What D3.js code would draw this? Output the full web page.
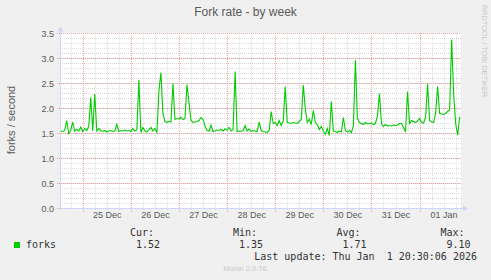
<!DOCTYPE html>
<meta charset="utf-8">
<style>
body { margin: 0; background: #f0f0f0; }
text { font-family: "Liberation Sans", Arial, sans-serif; }
.mono { font-family: "DejaVu Sans Mono", monospace; }
</style>
<body>
<script src="https://d3js.org/d3.v7.min.js"></script>
<script>

var width = 491,
    height = 280;

// hourly averages, first sample at 24 Dec 13:00 (UTC)
var startHour = Date.UTC(2025, 11, 24, 13);
var forks = [
  1.55,1.54,1.56,1.76,1.50,1.56,1.73,1.55,1.58,1.55,
  1.63,1.54,1.60,1.56,1.64,2.22,1.55,2.29,1.55,1.60,
  1.56,1.54,1.56,1.53,1.55,1.56,1.54,1.55,1.68,1.54,
  1.56,1.55,1.57,1.55,1.56,1.54,1.60,1.55,1.57,2.57,
  1.52,1.62,1.55,1.53,1.58,1.62,1.55,1.60,1.52,2.35,
  2.72,1.90,1.74,1.72,1.74,1.73,2.50,1.78,1.80,1.79,
  1.83,1.78,1.80,2.48,2.12,1.76,1.72,1.73,1.74,1.76,
  1.82,1.78,1.65,1.56,1.55,1.67,1.54,1.55,1.57,1.56,
  1.58,1.55,1.59,1.57,1.62,1.55,1.58,2.74,1.54,1.55,
  1.54,1.56,1.66,1.55,1.59,1.54,1.56,1.55,1.54,1.73,
  1.56,1.54,1.53,1.52,1.56,1.94,1.70,1.72,1.66,1.76,
  1.66,1.75,2.44,1.72,1.71,1.70,1.72,1.71,1.70,1.74,
  1.78,2.47,2.00,1.72,1.79,1.68,1.96,1.72,1.68,1.58,
  1.64,1.55,1.48,1.60,1.46,2.14,1.55,1.54,1.52,1.55,
  1.53,1.82,1.56,1.53,1.56,1.52,1.65,2.97,1.80,1.72,
  1.70,1.68,1.72,1.69,1.70,1.71,1.68,1.70,1.85,2.30,
  1.70,1.64,1.68,1.65,1.66,1.65,1.67,1.66,1.67,1.70,
  1.70,1.62,1.53,2.34,1.70,1.76,1.74,1.72,1.75,1.80,
  1.72,1.71,1.82,2.49,1.76,1.73,1.72,1.90,2.44,1.90,
  1.89,1.88,1.90,1.94,1.97,3.38,2.30,1.70,1.47,1.83
];

var yTicks = [0, 0.5, 1.0, 1.5, 2.0, 2.5, 3.0, 3.5];
var legendHeads = ["Cur:", "Min:", "Avg:", "Max:"];
var legendVals = ["1.52", "1.35", "1.71", "9.10"];

var data = forks.map(function(v, i) {
    return {t: new Date(startHour + i * 3600e3), v: v};
});

var svg = d3.select("body").append("svg")
    .attr("width", width)
    .attr("height", height);

var x = d3.scaleUtc()
    .domain([new Date(Date.UTC(2025, 11, 24, 12, 40)), new Date(Date.UTC(2026, 0, 1, 20, 40))])
    .range([60, 461]);

var y = d3.scaleLinear()
    .domain([0, 3.5])
    .range([208.5, 33.5]);

// canvas
svg.append("rect")
    .attr("x", 60).attr("y", 33)
    .attr("width", 401).attr("height", 176)
    .attr("fill", "#ffffff");

var px = function(v) { return Math.round(v) + 0.5; };

// minor grid
svg.selectAll(".hmin")
    .data(d3.range(1, 35).map(function(i) { return i / 10; }))
    .enter().append("line")
    .attr("x1", 58).attr("x2", 461)
    .attr("y1", function(d) { return px(y(d) - 0.5); })
    .attr("y2", function(d) { return px(y(d) - 0.5); })
    .attr("stroke", "#dcdcdc")
    .attr("stroke-dasharray", "1,1");

svg.selectAll(".vmin")
    .data(x.ticks(d3.utcHour.every(6)))
    .enter().append("line")
    .attr("x1", function(d) { return px(x(d)); })
    .attr("x2", function(d) { return px(x(d)); })
    .attr("y1", 33).attr("y2", 211)
    .attr("stroke", "#dcdcdc")
    .attr("stroke-dasharray", "1,1");

// major grid
svg.selectAll(".hmaj")
    .data(yTicks)
    .enter().append("line")
    .attr("x1", 57).attr("x2", 461)
    .attr("y1", function(d) { return px(y(d) - 0.5); })
    .attr("y2", function(d) { return px(y(d) - 0.5); })
    .attr("stroke", "#eaa6a6")
    .attr("stroke-dasharray", "1,1");

svg.selectAll(".vmaj")
    .data(x.ticks(d3.utcDay))
    .enter().append("line")
    .attr("x1", function(d) { return px(x(d)); })
    .attr("x2", function(d) { return px(x(d)); })
    .attr("y1", 33).attr("y2", 212)
    .attr("stroke", "#eaa6a6")
    .attr("stroke-dasharray", "1,1");

// axes lines + arrows
svg.append("line")
    .attr("x1", 60.5).attr("x2", 60.5).attr("y1", 30).attr("y2", 209)
    .attr("stroke", "#cfd6f8");
svg.append("line")
    .attr("x1", 60).attr("x2", 464).attr("y1", 208.5).attr("y2", 208.5)
    .attr("stroke", "#cfd6f8");
svg.append("path")
    .attr("d", "M57.5,31.5 L60.5,26.5 L63.5,31.5 Z")
    .attr("fill", "#cfd6f8");
svg.append("path")
    .attr("d", "M463,205.5 L468,208.5 L463,211.5 Z")
    .attr("fill", "#cfd6f8");

// series
var line = d3.line()
    .x(function(d) { return x(d.t); })
    .y(function(d) { return y(d.v); });

svg.append("path")
    .datum(data)
    .attr("d", line)
    .attr("fill", "none")
    .attr("stroke", "#00cc00")
    .attr("stroke-width", 1.1);

// y tick labels
var yAxis = svg.append("g")
    .attr("transform", "translate(54,0)")
    .call(d3.axisLeft(y).tickValues(yTicks).tickSize(0).tickPadding(0).tickFormat(d3.format(".1f")));
yAxis.select(".domain").remove();
yAxis.selectAll("text")
    .attr("font-family", "Liberation Sans, Arial, sans-serif")
    .attr("font-size", 9)
    .attr("fill", "#5a5a5a");

// x tick labels at noon
var noons = d3.utcDay.range(new Date(Date.UTC(2025, 11, 25)), new Date(Date.UTC(2026, 0, 2)))
    .map(function(d) { return d3.utcHour.offset(d, 12); });
var xAxis = svg.append("g")
    .attr("transform", "translate(0,212)")
    .call(d3.axisBottom(x).tickValues(noons).tickSize(0).tickPadding(0).tickFormat(d3.utcFormat("%d %b")));
xAxis.select(".domain").remove();
xAxis.selectAll("text")
    .attr("font-family", "Liberation Sans, Arial, sans-serif")
    .attr("font-size", 9)
    .attr("fill", "#5a5a5a");

// title and labels
svg.append("text")
    .attr("x", 245.5).attr("y", 16)
    .attr("text-anchor", "middle")
    .attr("font-size", 12)
    .attr("fill", "#5a5a5a")
    .text("Fork rate - by week");

svg.append("text")
    .attr("transform", "translate(15,120) rotate(-90)")
    .attr("text-anchor", "middle")
    .attr("font-size", 11)
    .attr("fill", "#5a5a5a")
    .text("forks / second");

svg.append("text")
    .attr("transform", "translate(482,5) rotate(90)")
    .attr("font-size", 7.3)
    .attr("fill", "#c8c8c8")
    .text("RRDTOOL / TOBI OETIKER");

// legend
svg.append("rect")
    .attr("x", 14).attr("y", 242)
    .attr("width", 6).attr("height", 6)
    .attr("fill", "#00cc00");

svg.append("text")
    .attr("class", "mono")
    .attr("x", 26).attr("y", 248)
    .attr("font-size", 10)
    .attr("fill", "#333")
    .text("forks");

var colEnd = [154, 257, 360.5, 464.5];
svg.selectAll(".lhead")
    .data(legendHeads)
    .enter().append("text")
    .attr("class", "mono")
    .attr("x", function(d, i) { return colEnd[i]; })
    .attr("y", 236)
    .attr("text-anchor", "end")
    .attr("font-size", 10)
    .attr("fill", "#333")
    .text(function(d) { return d; });

svg.selectAll(".lval")
    .data(legendVals)
    .enter().append("text")
    .attr("class", "mono")
    .attr("x", function(d, i) { return colEnd[i] + 6; })
    .attr("y", 248)
    .attr("text-anchor", "end")
    .attr("font-size", 10)
    .attr("fill", "#333")
    .text(function(d) { return d; });

svg.append("text")
    .attr("class", "mono")
    .attr("x", 477).attr("y", 260)
    .attr("text-anchor", "end")
    .attr("font-size", 10)
    .attr("fill", "#333")
    .attr("xml:space", "preserve")
    .style("white-space", "pre")
    .text("Last update: Thu Jan  1 20:30:06 2026");

svg.append("text")
    .attr("x", 245).attr("y", 271)
    .attr("text-anchor", "middle")
    .attr("font-size", 7.5)
    .attr("fill", "#c8c8c8")
    .text("Munin 2.0.76");

</script>
